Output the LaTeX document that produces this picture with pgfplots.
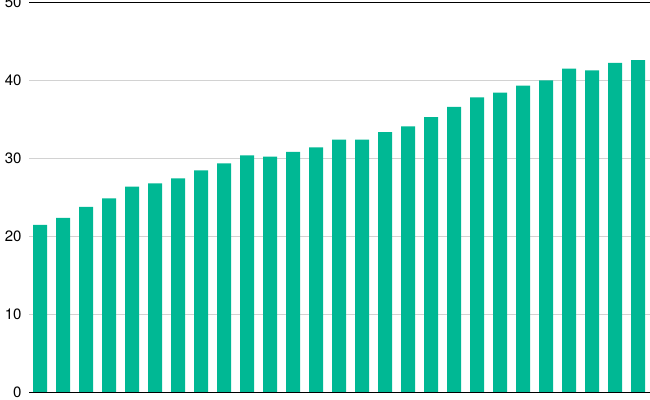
\documentclass[border=0pt]{standalone}
\usepackage{pgfplots}
\pgfplotsset{compat=1.18}
\usepackage{fontspec}
\setmainfont{TeX Gyre Heros}
\definecolor{barc}{RGB}{0,184,148}
\definecolor{gridc}{RGB}{210,210,210}
\begin{document}
\begin{tikzpicture}
\begin{axis}[
  scale only axis,
  width=620.7pt, height=390pt,
  xmin=-0.47, xmax=26.52,
  ymin=0, ymax=50,
  ytick={0,10,20,30,40,50},
  xtick=\empty,
  ymajorgrids,
  grid style={gridc, line width=1pt},
  axis line style={draw=none},
  major tick length=0pt,
  tick label style={font=\fontsize{15}{17}\selectfont},
  yticklabel style={xshift=-4.3pt},
  /pgf/number format/assume math mode=true,
  ybar, bar width=14pt,
  clip=false,
]
\addplot[fill=barc, draw=none] coordinates {
(0,21.45) (1,22.35) (2,23.76) (3,24.87) (4,26.36) (5,26.79) (6,27.44) (7,28.46) (8,29.36)
(9,30.38) (10,30.21) (11,30.81) (12,31.41) (13,32.39) (14,32.39) (15,33.37) (16,34.10) (17,35.29)
(18,36.58) (19,37.82) (20,38.41) (21,39.31) (22,40.0) (23,41.49) (24,41.28) (25,42.22) (26,42.60)
};
\draw[black, line width=1pt] (rel axis cs:0,0) -- (rel axis cs:1,0);
\draw[black, line width=1pt] (rel axis cs:0,1) -- (rel axis cs:1,1);
\coordinate (sw) at (rel axis cs:0,0);
\coordinate (ne) at (rel axis cs:1,1);
\end{axis}
\pgfresetboundingbox
\clip ([shift={(-29.3pt,-7.7pt)}]sw) rectangle ([shift={(0pt,2.3pt)}]ne);
\useasboundingbox ([shift={(-29.3pt,-7.7pt)}]sw) rectangle ([shift={(0pt,2.3pt)}]ne);
\end{tikzpicture}
\end{document}
